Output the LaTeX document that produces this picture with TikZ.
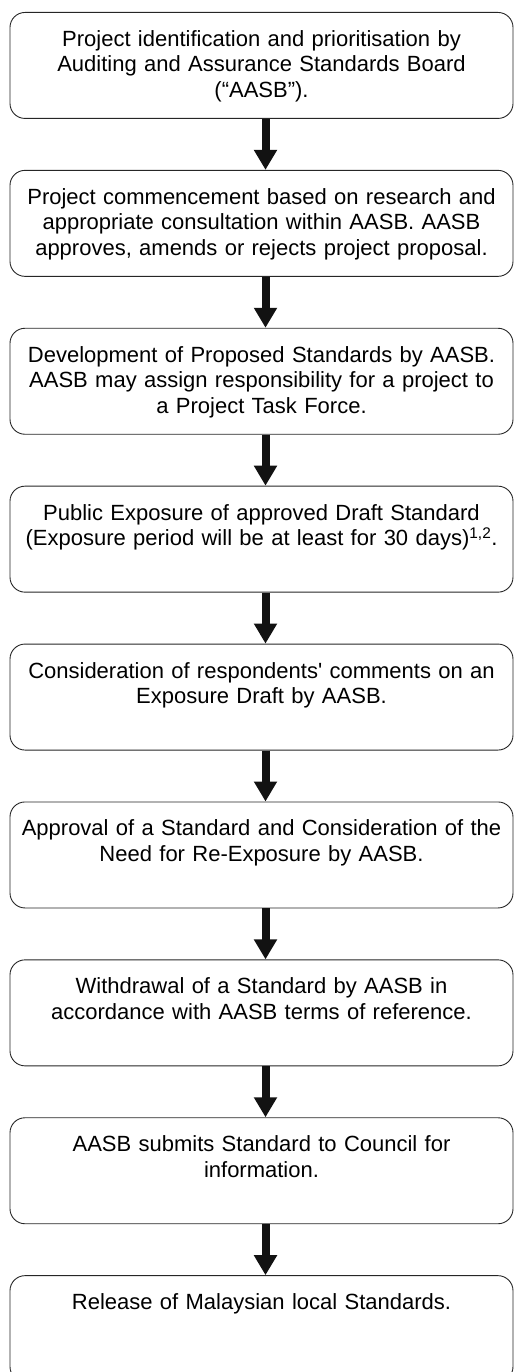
\documentclass[tikz,border=0pt]{standalone}
\usepackage{fontspec}
\setmainfont{Liberation Sans}
\usetikzlibrary{arrows.meta}

\begin{document}
\begin{tikzpicture}[x=1pt,y=1pt]
			\tikzstyle{etape}=[draw=black!85,line width=0.9pt,rounded corners=15pt,anchor=north,minimum width=503pt,text width=503pt,inner xsep=0pt,inner ysep=0pt,align=center,text height=34pt,text depth=72pt,font=\fontsize{22}{25.5}\selectfont]
			\tikzstyle{fleche}=[-{Triangle[width=22pt,length=20pt]},line width=8pt,black!93]
			\def\DistanceInterEtapes{157.9}
			\def\Haut{-12}
			\def\Centre{261.5}
			\def\Decalage{4pt}
			\useasboundingbox (0,0) rectangle (514,-1372);
			\node[etape] (E1) at ({\Centre},{\Haut-(0)*\DistanceInterEtapes}) {Project identification and prioritisation by\\Auditing and Assurance Standards Board\\(“AASB”).};
			\node[etape] (E2) at ({\Centre},{\Haut-(1)*\DistanceInterEtapes}) {Project commencement based on research and\\appropriate consultation within AASB. AASB\\approves, amends or rejects project proposal.};
			\node[etape] (E3) at ({\Centre},{\Haut-(2)*\DistanceInterEtapes}) {Development of Proposed Standards by AASB.\\AASB may assign responsibility for a project to\\a Project Task Force.};
			\node[etape] (E4) at ({\Centre},{\Haut-(3)*\DistanceInterEtapes}) {Public Exposure of approved Draft Standard\\(Exposure period will be at least for 30 days)\textsuperscript{1,2}.};
			\node[etape] (E5) at ({\Centre},{\Haut-(4)*\DistanceInterEtapes}) {Consideration of respondents\textquotesingle\ comments on an\\Exposure Draft by AASB.};
			\node[etape] (E6) at ({\Centre},{\Haut-(5)*\DistanceInterEtapes}) {Approval of a Standard and Consideration of the\\Need for Re-Exposure by AASB.};
			\node[etape] (E7) at ({\Centre},{\Haut-(6)*\DistanceInterEtapes}) {Withdrawal of a Standard by AASB in\\accordance with AASB terms of reference.};
			\node[etape] (E8) at ({\Centre},{\Haut-(7)*\DistanceInterEtapes}) {AASB submits Standard to Council for\\information.};
			\node[etape] (E9) at ({\Centre},{\Haut-(8)*\DistanceInterEtapes}) {Release of Malaysian local Standards.};
			\draw[fleche] ([xshift=\Decalage]E1.south)--([xshift=\Decalage]E2.north);
			\draw[fleche] ([xshift=\Decalage]E2.south)--([xshift=\Decalage]E3.north);
			\draw[fleche] ([xshift=\Decalage]E3.south)--([xshift=\Decalage]E4.north);
			\draw[fleche] ([xshift=\Decalage]E4.south)--([xshift=\Decalage]E5.north);
			\draw[fleche] ([xshift=\Decalage]E5.south)--([xshift=\Decalage]E6.north);
			\draw[fleche] ([xshift=\Decalage]E6.south)--([xshift=\Decalage]E7.north);
			\draw[fleche] ([xshift=\Decalage]E7.south)--([xshift=\Decalage]E8.north);
			\draw[fleche] ([xshift=\Decalage]E8.south)--([xshift=\Decalage]E9.north);
		\end{tikzpicture}
\end{document}
